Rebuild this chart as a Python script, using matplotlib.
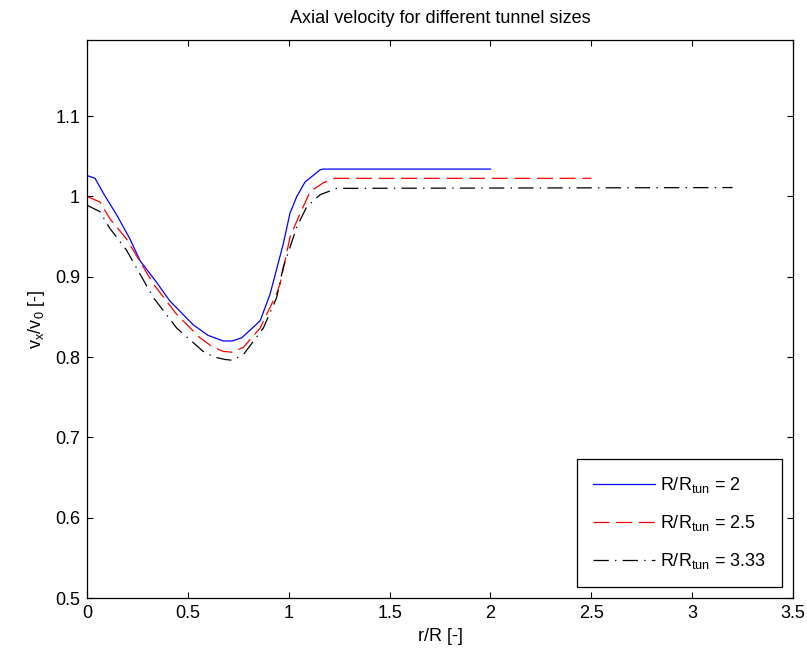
import numpy as np
import matplotlib
matplotlib.use('Agg')
import matplotlib.pyplot as plt

plt.rcParams['font.family'] = ['Liberation Sans', 'DejaVu Sans']
plt.rcParams['mathtext.fontset'] = 'custom'
plt.rcParams['mathtext.rm'] = 'Liberation Sans'
plt.rcParams['mathtext.it'] = 'Liberation Sans'
plt.rcParams['lines.scale_dashes'] = False

# data
r_tun2 = [0.0, 0.04, 0.081, 0.147, 0.213, 0.263, 0.345, 0.41, 0.527, 0.6, 0.676, 0.72, 0.767,
          0.858, 0.907, 0.973, 1.006, 1.04, 1.081, 1.155, 1.17, 2.0]
v_tun2 = [1.026, 1.0225, 1.004, 0.977, 0.947, 0.920, 0.893, 0.870, 0.840, 0.827, 0.820, 0.820, 0.824,
          0.845, 0.878, 0.941, 0.979, 1.000, 1.018, 1.033, 1.034, 1.034]

r_tun25 = [0.0, 0.064, 0.114, 0.196, 0.329, 0.445, 0.56, 0.62, 0.676, 0.72, 0.775, 0.858, 0.94,
           0.957, 1.006, 1.048, 1.106, 1.172, 1.23, 2.5]
v_tun25 = [1.0, 0.993, 0.972, 0.947, 0.891, 0.853, 0.824, 0.813, 0.807, 0.806, 0.812, 0.836, 0.879,
           0.891, 0.949, 0.974, 1.006, 1.017, 1.0225, 1.0225]

r_tun333 = [0.0, 0.064, 0.114, 0.196, 0.329, 0.445, 0.576, 0.63, 0.684, 0.72, 0.775, 0.874, 0.94,
            0.973, 1.04, 1.089, 1.155, 1.238, 3.2]
v_tun333 = [0.989, 0.981, 0.960, 0.933, 0.874, 0.836, 0.807, 0.800, 0.797, 0.796, 0.803, 0.836, 0.874,
            0.912, 0.962, 0.987, 1.002, 1.010, 1.011]

labels = [r'R/R$_{\rm tun}$ = 2', r'R/R$_{\rm tun}$ = 2.5', r'R/R$_{\rm tun}$ = 3.33']

fig = plt.figure(figsize=(8.07, 6.67), dpi=100)
ax = fig.add_axes([0.1078, 0.1034, 0.875, 0.837])

ax.plot(r_tun2, v_tun2, color='blue', lw=0.9, label=labels[0])
ax.plot(r_tun25, v_tun25, color='red', lw=0.9, linestyle=(0, (11.5, 4.8)), label=labels[1])
ax.plot(r_tun333, v_tun333, color='black', lw=0.9, linestyle=(0, (11, 4.5, 1, 4.5)), label=labels[2])

ax.set_xlim(0, 3.5)
ax.set_ylim(0.5, 1.195)
ax.set_xticks(np.arange(0, 3.51, 0.5))
ax.set_xticklabels(['0', '0.5', '1', '1.5', '2', '2.5', '3', '3.5'])
ax.set_yticks([0.5, 0.6, 0.7, 0.8, 0.9, 1.0, 1.1])
ax.set_yticklabels(['0.5', '0.6', '0.7', '0.8', '0.9', '1', '1.1'])
ax.tick_params(direction='in', top=True, right=True, length=4.5, width=0.8,
               labelsize=13, pad=5)
for s in ax.spines.values():
    s.set_linewidth(0.9)

ax.set_title('Axial velocity for different tunnel sizes', fontsize=13, pad=12)
ax.set_xlabel('r/R [-]', fontsize=13, labelpad=4)
ax.set_ylabel(r'v$_{\rm x}$/v$_0$ [-]', fontsize=13, labelpad=6)

leg = ax.legend(loc='lower right', fontsize=13, fancybox=False, framealpha=1,
                edgecolor='black', handlelength=3.4, handletextpad=0.3,
                borderaxespad=0.6, labelspacing=1.0, borderpad=0.9)
leg.get_frame().set_linewidth(0.9)

fig.savefig('out.png', dpi=100)
